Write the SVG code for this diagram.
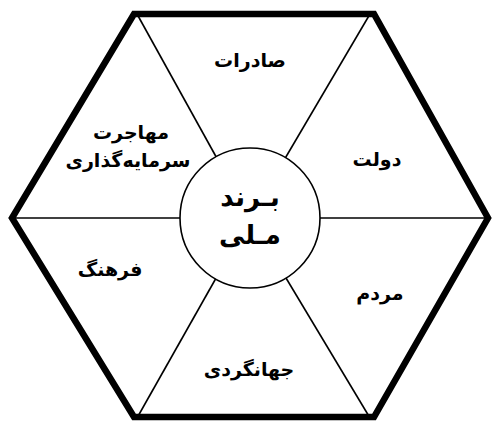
<svg xmlns="http://www.w3.org/2000/svg" width="493" height="421" viewBox="0 0 493 421">
<style>
.hex{fill:none;stroke:#000;stroke-width:6.5;stroke-linejoin:miter}
.sp{stroke:#000;stroke-width:1.6;fill:none}
.lbl{font-family:"DejaVu Sans",sans-serif;font-size:19px;font-weight:bold;fill:#000;text-anchor:middle}
.ctr{font-family:"DejaVu Sans",sans-serif;font-size:26px;font-weight:bold;fill:#000;text-anchor:middle}
</style>
<rect width="493" height="421" fill="#fff"/>
<g id="connectors">
<line class="sp" x1="137" y1="14" x2="250" y2="218"/>
<line class="sp" x1="370" y1="14" x2="250" y2="218"/>
<line class="sp" x1="12" y1="218" x2="250" y2="218"/>
<line class="sp" x1="488" y1="218" x2="250" y2="218"/>
<line class="sp" x1="137" y1="418" x2="250" y2="218"/>
<line class="sp" x1="370" y1="418" x2="250" y2="218"/>
</g>
<g id="hexagon">
<polygon class="hex" points="134,14 374,14 488,218 374,417 134,417 12,218"/>
</g>
<g id="center">
<circle cx="250" cy="218" r="70" fill="#fff" stroke="#000" stroke-width="1.6"/>
<text class="ctr" x="250" y="206">بـرند</text>
<text class="ctr" x="250" y="244">مـلی</text>
</g>
<g id="n-saderat"><text class="lbl" x="250" y="67">صادرات</text></g>
<g id="n-dolat"><text class="lbl" x="377" y="166">دولت</text></g>
<g id="n-mardom"><text class="lbl" x="380" y="300">مردم</text></g>
<g id="n-jahangardi"><text class="lbl" x="249" y="376">جهانگردی</text></g>
<g id="n-farhang"><text class="lbl" x="110" y="276">فرهنگ</text></g>
<g id="n-mohajerat"><text class="lbl" x="131" y="139">مهاجرت</text><text class="lbl" x="128" y="167">سرمایه‌گذاری</text></g>
</svg>
